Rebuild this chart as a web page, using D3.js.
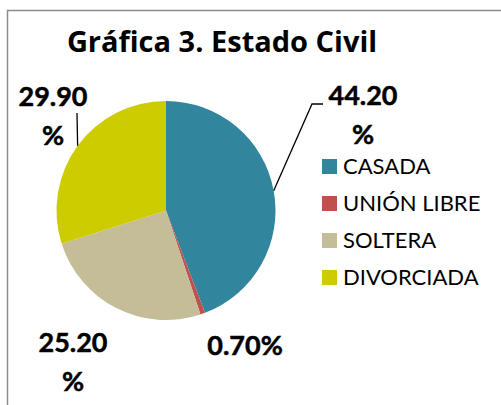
<!DOCTYPE html>
<html>
<head>
<meta charset="utf-8">
<script src="https://cdn.jsdelivr.net/npm/d3@7"></script>
<style>
  body { margin: 0; background: #fff; }
  svg { display: block; }
</style>
</head>
<body>
<div id="container"></div>
<script>
// chart data
const categories = ["CASADA", "UNIÓN LIBRE", "SOLTERA", "DIVORCIADA"]
const values = [44.2, 0.7, 25.2, 29.9]
const valueLabels = [["44.20", "%"], ["0.70%"], ["25.20", "%"], ["29.90", "%"]]
const colors = ["#31859c", "#c0504d", "#c4bd97", "#cccc00"]
const title = "Gráfica 3. Estado Civil"

const width = 501
const height = 405

const svg = d3.create("svg")
  .attr("width", width)
  .attr("height", height)
container.append(svg.node())

// chart frame, runs off the right and bottom edges
svg.append("rect")
  .attr("x", 7.5)
  .attr("y", 10.5)
  .attr("width", width)
  .attr("height", height)
  .style("fill", "white")
  .style("stroke", "#8c8c8c")
  .style("stroke-width", 1.5)

svg.append("text")
  .attr("x", 222)
  .attr("y", 52)
  .attr("text-anchor", "middle")
  .style("font-family", "'Open Sans', sans-serif")
  .style("font-weight", "bold")
  .style("font-size", "29px")
  .text(title)

// pie
const cx = 166, cy = 210.5, radius = 109.5
const data = categories.map((c, i) => ({ name: c, value: values[i], label: valueLabels[i], color: colors[i] }))
const pie = d3.pie().sort(null).value(d => d.value)
const arcs = pie(data)
const arc = d3.arc().innerRadius(0).outerRadius(radius)

const g = svg.append("g").attr("transform", `translate(${cx},${cy})`)
g.selectAll("path.slice")
  .data(arcs)
  .join("path")
  .attr("class", "slice")
  .attr("d", arc)
  .style("fill", d => d.data.color)

// data labels: hand-placed like the original, [center x, first baseline]
const labelPos = [[363, 105], [245, 355], [73, 352], [53, 106]]
const lineStep = 39
const labelFont = "'Lato', 'Open Sans', sans-serif"

data.forEach((d, i) => {
  const t = svg.append("text")
    .attr("text-anchor", "middle")
    .style("font-family", labelFont)
    .style("font-weight", "bold")
    .style("font-size", "27px")
    .style("fill", "#000")
    .style("stroke", "#000")
    .style("stroke-width", 0.5)
  d.label.forEach((line, j) => {
    t.append("tspan")
      .attr("x", labelPos[i][0])
      .attr("y", labelPos[i][1] + j * lineStep)
      .text(line)
  })
})

// leader lines from the slice mid point on the rim
const rimPoint = a => {
  const m = (a.startAngle + a.endAngle) / 2
  return [cx + radius * Math.sin(m), cy - radius * Math.cos(m)]
}
const leaders = [
  { idx: 0, points: [[312, 104], [323, 104]] },
  { idx: 3, points: [[77, 113]] }
]
leaders.forEach(l => {
  const pts = [rimPoint(arcs[l.idx]), ...l.points]
  svg.append("path")
    .attr("d", d3.line()(pts))
    .style("fill", "none")
    .style("stroke", "#000")
    .style("stroke-width", 1.3)
})

// legend
const legend = svg.append("g").attr("transform", "translate(322,159)")
const item = legend.selectAll("g")
  .data(data)
  .join("g")
  .attr("transform", (d, i) => `translate(0,${i * 37})`)
item.append("rect")
  .attr("width", 15)
  .attr("height", 15)
  .style("fill", d => d.color)
item.append("text")
  .attr("x", 21)
  .attr("y", 15)
  .style("font-family", labelFont)
  .style("font-size", "22px")
  .style("fill", "#000")
  .text(d => d.name)
</script>
</body>
</html>
